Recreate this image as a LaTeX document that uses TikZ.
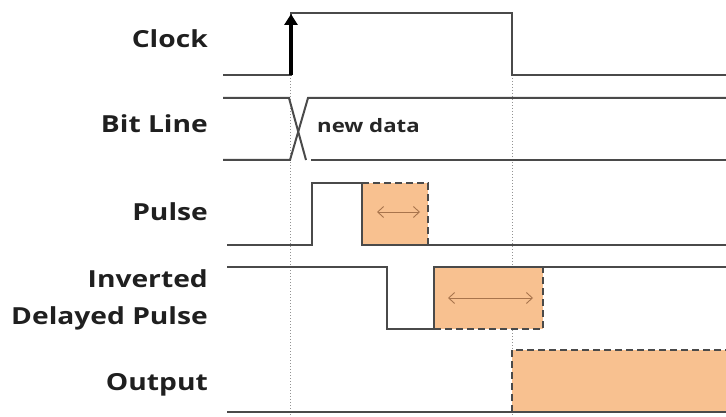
\documentclass[tikz,border=0pt]{standalone}
\usepackage{fontspec}
\setmainfont{Open Sans}
\newfontfamily\lblfont[FakeStretch=1.2]{Open Sans}
\usetikzlibrary{arrows.meta}
\definecolor{sig}{HTML}{4A4A4A}
\definecolor{peach}{HTML}{F8C190}
\definecolor{dashc}{HTML}{4A4A4A}
\definecolor{arr}{HTML}{A8744C}
\begin{document}
\begin{tikzpicture}[x=1pt,y=-1pt,
  wave/.style={draw=sig,line width=2pt,line join=miter},
  dashedge/.style={draw=dashc,line width=2.8pt,dash pattern=on 7pt off 4pt},
  guide/.style={draw=gray!85,line width=1pt,dotted},
  box/.style={fill=peach,draw=none},
  span/.style={draw=arr,line width=0.9pt,{Straight Barb[length=6pt,width=11pt]}-{Straight Barb[length=6pt,width=11pt]}},
  lbl/.style={font=\lblfont\bfseries\fontsize{23.5}{30}\selectfont,text=black!88,anchor=base east,inner sep=0pt},
  small/.style={font=\lblfont\bfseries\fontsize{18.5}{22}\selectfont,text=black!85,anchor=base west,inner sep=0pt}]
\useasboundingbox (0,0) rectangle (726,417);

% guides
\coordinate (g1t) at (290,75); \coordinate (g1b) at (290,415);
\coordinate (g2t) at (512,75); \coordinate (g2b) at (512,415);
\draw[guide] (g1t) -- (g1b);
\draw[guide] (g2t) -- (g2b);

% labels
\node[lbl] (lclk) at (208,48) {Clock};
\node[lbl] (lbit) at (208,133) {Bit Line};
\node[lbl] (lpul) at (208,220) {Pulse};
\node[lbl] (linv) at (208,287) {Inverted};
\node[lbl] (ldel) at (208,324) {Delayed Pulse};
\node[lbl] (lout) at (208,390) {Output};

% clock
\draw[wave] (223,75) -- (291,75) -- (291,13) -- (512,13) -- (512,75) -- (726,75);
\coordinate (ca) at (291,75); \coordinate (cb) at (291,14);
\draw[line width=3.5pt,black,-{Triangle[length=11pt,width=13pt]}] (ca) -- (cb);

% bit line
\draw[wave] (223,98) -- (289,98) -- (306,160);
\draw[wave] (223,160) -- (290,160) -- (308,98) -- (726,98);
\draw[wave] (311,160) -- (726,160);
\node[small] (nd) at (317,133) {new data};

% pulse
\fill[box] (362,183) rectangle (428,245);
\draw[wave] (227,245) -- (312,245) -- (312,183) -- (362,183) -- (362,245) -- (726,245);
\draw[dashedge] (362,183) -- (428,183) -- (428,245);
\coordinate (pa) at (377,212); \coordinate (pb) at (420,212);
\draw[span] (pa) -- (pb);

% inverted delayed pulse
\fill[box] (434,267) rectangle (543,329);
\draw[wave] (227,267) -- (387,267) -- (387,329) -- (434,329) -- (434,267) -- (726,267);
\draw[dashedge] (434,329) -- (543,329) -- (543,267);
\coordinate (ia) at (448,298); \coordinate (ib) at (533,298);
\draw[span] (ia) -- (ib);

% output
\fill[box] (512,350) rectangle (726,412);
\draw[dashedge] (512,412) -- (512,350) -- (726,350);
\draw[wave] (227,412) -- (726,412);
\end{tikzpicture}
\end{document}
